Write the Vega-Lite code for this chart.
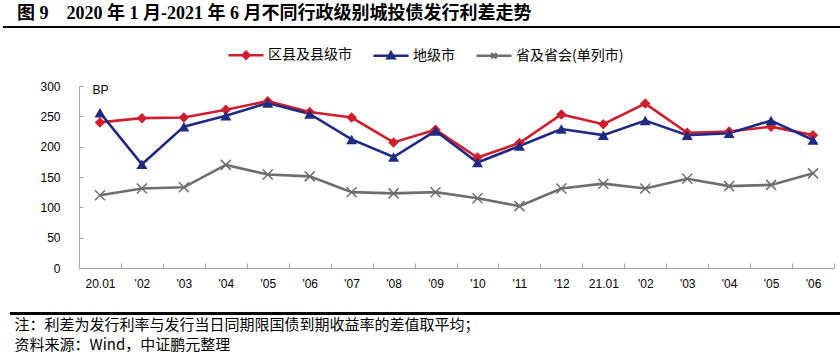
{
  "$schema": "https://vega.github.io/schema/vega-lite/v6.json",
  "autosize": {"type": "none"},
  "width": 755,
  "height": 182,
  "padding": {"left": 79, "top": 86, "right": 6, "bottom": 92},
  "background": "white",
  "title": {
    "text": "图 9\u30002020 年 1 月-2021 年 6 月不同行政级别城投债发行利差走势",
    "anchor": "start",
    "frame": "group",
    "font": "Liberation Serif, Noto Sans CJK SC",
    "fontSize": 18,
    "fontWeight": "bold",
    "color": "black",
    "dx": -62,
    "offset": 3
  },
  "config": {
    "view": {"stroke": null},
    "axis": {
      "domainColor": "#A6A6A6",
      "tickColor": "#A6A6A6",
      "grid": false,
      "labelFont": "Liberation Sans",
      "labelFontSize": 12,
      "labelColor": "black",
      "labelOverlap": false
    },
    "legend": {
      "labelFont": "Noto Sans CJK SC",
      "labelFontSize": 14,
      "labelColor": "black"
    }
  },
  "data": {
    "values": [
      {"month": "20.01", "series": "省及省会(单列市)", "value": 120},
      {"month": "20.02", "series": "省及省会(单列市)", "value": 131},
      {"month": "20.03", "series": "省及省会(单列市)", "value": 133},
      {"month": "20.04", "series": "省及省会(单列市)", "value": 170},
      {"month": "20.05", "series": "省及省会(单列市)", "value": 154},
      {"month": "20.06", "series": "省及省会(单列市)", "value": 151},
      {"month": "20.07", "series": "省及省会(单列市)", "value": 125},
      {"month": "20.08", "series": "省及省会(单列市)", "value": 123},
      {"month": "20.09", "series": "省及省会(单列市)", "value": 125},
      {"month": "20.10", "series": "省及省会(单列市)", "value": 115},
      {"month": "20.11", "series": "省及省会(单列市)", "value": 102},
      {"month": "20.12", "series": "省及省会(单列市)", "value": 131},
      {"month": "21.01", "series": "省及省会(单列市)", "value": 139},
      {"month": "21.02", "series": "省及省会(单列市)", "value": 131},
      {"month": "21.03", "series": "省及省会(单列市)", "value": 147},
      {"month": "21.04", "series": "省及省会(单列市)", "value": 135},
      {"month": "21.05", "series": "省及省会(单列市)", "value": 137},
      {"month": "21.06", "series": "省及省会(单列市)", "value": 156},
      {"month": "20.01", "series": "区县及县级市", "value": 240},
      {"month": "20.02", "series": "区县及县级市", "value": 247},
      {"month": "20.03", "series": "区县及县级市", "value": 248},
      {"month": "20.04", "series": "区县及县级市", "value": 261},
      {"month": "20.05", "series": "区县及县级市", "value": 275},
      {"month": "20.06", "series": "区县及县级市", "value": 257},
      {"month": "20.07", "series": "区县及县级市", "value": 248},
      {"month": "20.08", "series": "区县及县级市", "value": 207},
      {"month": "20.09", "series": "区县及县级市", "value": 228},
      {"month": "20.10", "series": "区县及县级市", "value": 182},
      {"month": "20.11", "series": "区县及县级市", "value": 206},
      {"month": "20.12", "series": "区县及县级市", "value": 253},
      {"month": "21.01", "series": "区县及县级市", "value": 237},
      {"month": "21.02", "series": "区县及县级市", "value": 271},
      {"month": "21.03", "series": "区县及县级市", "value": 223},
      {"month": "21.04", "series": "区县及县级市", "value": 225},
      {"month": "21.05", "series": "区县及县级市", "value": 233},
      {"month": "21.06", "series": "区县及县级市", "value": 219},
      {"month": "20.01", "series": "地级市", "value": 256},
      {"month": "20.02", "series": "地级市", "value": 171},
      {"month": "20.03", "series": "地级市", "value": 233},
      {"month": "20.04", "series": "地级市", "value": 251},
      {"month": "20.05", "series": "地级市", "value": 272},
      {"month": "20.06", "series": "地级市", "value": 254},
      {"month": "20.07", "series": "地级市", "value": 212},
      {"month": "20.08", "series": "地级市", "value": 183},
      {"month": "20.09", "series": "地级市", "value": 226},
      {"month": "20.10", "series": "地级市", "value": 174},
      {"month": "20.11", "series": "地级市", "value": 201},
      {"month": "20.12", "series": "地级市", "value": 229},
      {"month": "21.01", "series": "地级市", "value": 219},
      {"month": "21.02", "series": "地级市", "value": 243},
      {"month": "21.03", "series": "地级市", "value": 219},
      {"month": "21.04", "series": "地级市", "value": 222},
      {"month": "21.05", "series": "地级市", "value": 243},
      {"month": "21.06", "series": "地级市", "value": 211}
    ]
  },
  "layer": [
    {
      "encoding": {
        "x": {
          "field": "month", "type": "ordinal", "sort": null, "bandPosition": 0.5,
          "scale": {"type": "band", "paddingInner": 0, "paddingOuter": 0},
          "axis": {
            "title": ["注：利差为发行利率与发行当日同期限国债到期收益率的差值取平均；", "资料来源：Wind，中证鹏元整理"],
            "titleFont": "Noto Sans CJK SC",
            "titleFontSize": 15,
            "titleFontWeight": "normal",
            "titleColor": "black",
            "titleAnchor": "start",
            "titleAlign": "left",
            "titleBaseline": "top",
            "titleLineHeight": 20,
            "titleX": -65,
            "titleY": 49,
            "labelAngle": 0,
            "tickBand": "extent",
            "tickSize": -5,
            "labelPadding": 15,
            "labelExpr": "datum.value == null ? '' : substring(datum.value, 3) == '01' ? datum.value : \"'\" + substring(datum.value, 3)"
          }
        },
        "y": {
          "field": "value", "type": "quantitative",
          "scale": {"domain": [0, 300], "nice": false},
          "axis": {
            "values": [0, 50, 100, 150, 200, 250, 300],
            "tickCount": 7,
            "labelOverlap": false,
            "tickSize": -4,
            "labelPadding": 23,
            "title": "BP",
            "titleAngle": 0,
            "titleAlign": "left",
            "titleBaseline": "middle",
            "titleX": 13,
            "titleY": 3,
            "titleFont": "Liberation Sans",
            "titleFontSize": 12,
            "titleFontWeight": "normal",
            "titleColor": "black"
          }
        }
      },
      "layer": [
        {
          "mark": {"type": "line", "strokeWidth": 2.6},
          "encoding": {
            "color": {
              "field": "series", "type": "nominal",
              "scale": {"domain": ["区县及县级市", "地级市", "省及省会(单列市)"], "range": ["#CF1F2E", "#1F2A82", "#6E6E6E"]},
              "legend": {
                "title": null,
                "orient": "none",
                "direction": "horizontal",
                "legendX": 148,
                "legendY": -50,
                "symbolSize": 1225,
                "symbolStrokeWidth": 2.5,
                "labelOffset": 3,
                "columnPadding": 16,
                "encode": {
                  "symbols": {
                    "update": {
                      "shape": {"signal": "datum.value === '区县及县级市' ? 'M-1,0H1M0,-0.2L0.2,0L0,0.2L-0.2,0Z' : datum.value === '地级市' ? 'M-1,0H1M0,-0.2L0.2,0.14L-0.2,0.14Z' : 'M-1,0H1M-0.15,-0.15L0.15,0.15M-0.15,0.15L0.15,-0.15'"},
                      "fill": {"scale": "color", "field": "value"},
                      "stroke": {"scale": "color", "field": "value"},
                      "strokeWidth": {"value": 2.5}
                    }
                  }
                }
              }
            }
          }
        },
        {
          "transform": [{"filter": "datum.series === '省及省会(单列市)'"}],
          "mark": {"type": "point", "shape": "M-1,-1L1,1M-1,1L1,-1", "filled": false, "color": "#6E6E6E", "strokeWidth": 1.5, "opacity": 1, "size": 100}
        },
        {
          "transform": [{"filter": "datum.series === '区县及县级市'"}],
          "mark": {"type": "point", "shape": "diamond", "filled": true, "color": "#CF1F2E", "opacity": 1, "size": 110}
        },
        {
          "transform": [{"filter": "datum.series === '地级市'"}],
          "mark": {"type": "point", "shape": "triangle-up", "filled": true, "color": "#1F2A82", "opacity": 1, "size": 120}
        }
      ]
    },
    {
      "mark": {"type": "rule", "color": "black", "strokeWidth": 1.3},
      "encoding": {
        "x": {"datum": -0.1007, "type": "quantitative", "scale": {"domain": [0, 1]}, "axis": null},
        "x2": {"datum": 1.008},
        "y": {"datum": 397.5, "type": "quantitative", "scale": {"domain": [0, 300], "nice": false}, "axis": null}
      }
    },
    {
      "mark": {"type": "rule", "color": "black", "strokeWidth": 1.3},
      "encoding": {
        "x": {"datum": -0.0914, "type": "quantitative", "scale": {"domain": [0, 1]}, "axis": null},
        "x2": {"datum": 1.008},
        "y": {"datum": -75, "type": "quantitative", "scale": {"domain": [0, 300], "nice": false}, "axis": null}
      }
    }
  ],
  "resolve": {"scale": {"x": "independent", "y": "independent"}}
}
